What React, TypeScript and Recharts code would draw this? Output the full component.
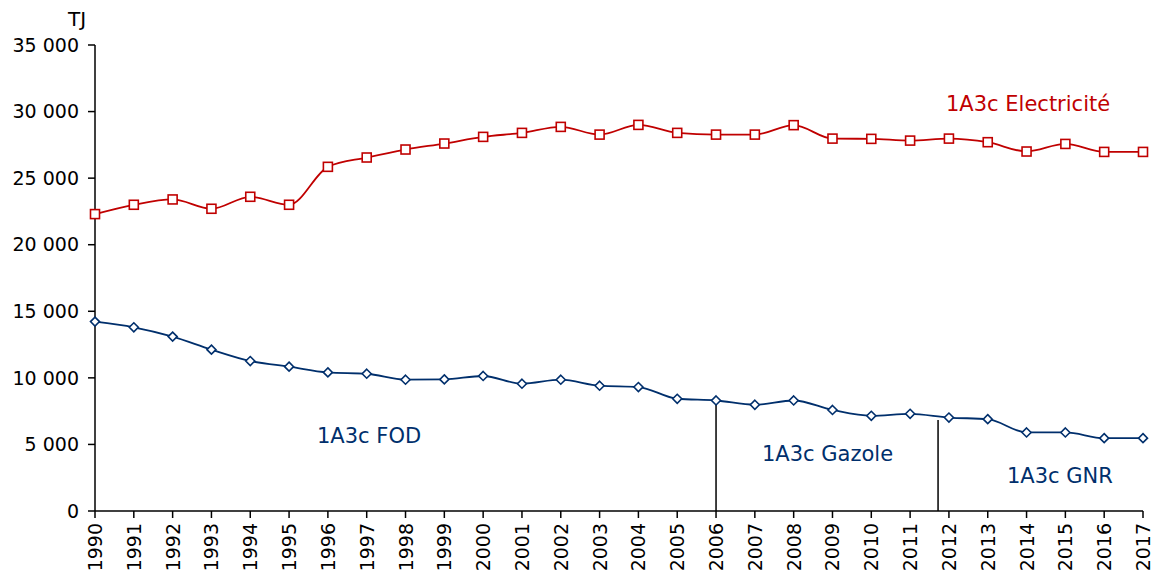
import { LineChart, Line, XAxis, YAxis, ReferenceLine, Customized } from 'recharts';

const years = [
  1990, 1991, 1992, 1993, 1994, 1995, 1996, 1997, 1998, 1999, 2000, 2001, 2002, 2003,
  2004, 2005, 2006, 2007, 2008, 2009, 2010, 2011, 2012, 2013, 2014, 2015, 2016, 2017,
];

const electricite = [
  22300, 23000, 23400, 22700, 23600, 23000, 25850, 26550, 27150, 27600, 28100, 28400, 28850, 28270,
  29000, 28400, 28270, 28270, 28980, 27970, 27950, 27820, 27970, 27700, 27000, 27570, 26970, 26970,
];

const fod = [
  14225, 13800, 13100, 12120, 11265, 10840, 10410, 10310, 9860, 9885, 10140, 9560, 9860, 9410,
  9310, 8430, 8300, 7980, 8300, 7590, 7150, 7300, 7020, 6900, 5900, 5900, 5470, 5470,
];

const yTicks = [0, 5000, 10000, 15000, 20000, 25000, 30000, 35000];

// where the fuel category switches (Gazole from 2006, GNR from late 2011)
const switchGazole = { year: 2006, value: 8300 };
const switchGNR = { year: 2011.72, value: 6830 };

const RED = '#C00000';
const BLUE = '#002F6C';
const FONT = '"DejaVu Sans", sans-serif';

const data = years.map((y, i) => ({ year: y, elec: electricite[i], fod: fod[i] }));

const fmt = (v: number) => (v >= 1000 ? `${Math.floor(v / 1000)} ${String(v % 1000).padStart(3, '0')}` : String(v));

function SquareDot(props: any) {
  const { cx, cy } = props;
  if (cx == null || cy == null) return null;
  return <rect x={cx - 4.5} y={cy - 4.5} width={9} height={9} fill="#fff" stroke={RED} strokeWidth={1.6} />;
}

function DiamondDot(props: any) {
  const { cx, cy } = props;
  if (cx == null || cy == null) return null;
  const r = 4.5;
  return (
    <polygon
      points={`${cx},${cy - r} ${cx + r},${cy} ${cx},${cy + r} ${cx - r},${cy}`}
      fill="#fff"
      stroke={BLUE}
      strokeWidth={1.6}
    />
  );
}

function YearTick(props: any) {
  const { x, y, payload } = props;
  return (
    <text
      transform={`translate(${x + 7},${y + 3}) rotate(-90)`}
      textAnchor="end"
      fontSize={19}
      fontFamily={FONT}
      fill="#000"
    >
      {payload.value}
    </text>
  );
}

function Labels() {
  return (
    <g fontFamily={FONT} fontSize={21}>
      <text x={68} y={26} fill="#000" fontSize={20}>TJ</text>
      <text x={946} y={111} fill={RED}>1A3c Electricité</text>
      <text x={317} y={443} fill={BLUE}>1A3c FOD</text>
      <text x={762} y={461} fill={BLUE}>1A3c Gazole</text>
      <text x={1007} y={483} fill={BLUE}>1A3c GNR</text>
    </g>
  );
}

export default function App() {
  return (
    <div style={{ position: 'absolute', left: 0, top: 0, background: '#fff' }}>
      <LineChart width={1158} height={576} data={data} margin={{ top: 45, right: 15, bottom: 6, left: 0 }}>
        <XAxis
          dataKey="year"
          type="number"
          domain={[1990, 2017]}
          ticks={years}
          interval={0}
          tick={<YearTick />}
          tickSize={7}
          height={59}
          axisLine={{ stroke: '#000', strokeWidth: 1.5 }}
          tickLine={{ stroke: '#000', strokeWidth: 1.5 }}
        />
        <YAxis
          domain={[0, 35000]}
          ticks={yTicks}
          width={95}
          tickSize={7}
          tickMargin={9}
          tickFormatter={fmt}
          tick={{ fill: '#000', fontSize: 19, fontFamily: FONT }}
          axisLine={{ stroke: '#000', strokeWidth: 1.5 }}
          tickLine={{ stroke: '#000', strokeWidth: 1.5 }}
        />
        <ReferenceLine
          segment={[{ x: switchGazole.year, y: 0 }, { x: switchGazole.year, y: switchGazole.value }]}
          stroke="#000"
          strokeWidth={1.5}
          ifOverflow="visible"
        />
        <ReferenceLine
          segment={[{ x: switchGNR.year, y: 0 }, { x: switchGNR.year, y: switchGNR.value }]}
          stroke="#000"
          strokeWidth={1.5}
          ifOverflow="visible"
        />
        <Line
          type="monotone"
          dataKey="elec"
          stroke={RED}
          strokeWidth={1.8}
          dot={<SquareDot />}
          activeDot={false}
          isAnimationActive={false}
        />
        <Line
          type="monotone"
          dataKey="fod"
          stroke={BLUE}
          strokeWidth={1.8}
          dot={<DiamondDot />}
          activeDot={false}
          isAnimationActive={false}
        />
        <Customized component={<Labels />} />
      </LineChart>
    </div>
  );
}
